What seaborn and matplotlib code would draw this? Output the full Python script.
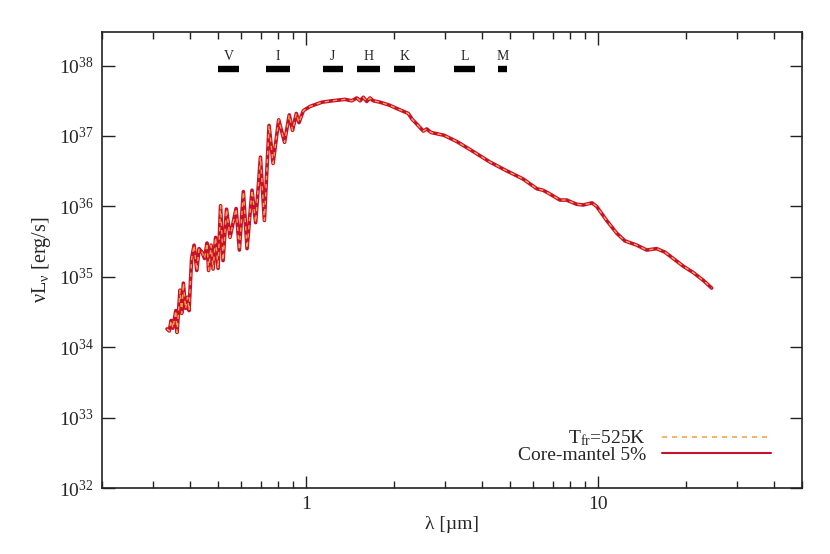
"""
Spectral energy distribution: T_fr=525K vs Core-mantel 5% model,
with photometric band markers along the top.
"""

import numpy as np
import pandas as pd
import matplotlib
matplotlib.use("Agg")
import matplotlib.pyplot as plt
from matplotlib.lines import Line2D
import seaborn as sns

# -------------------------------------------------------- data
# wavelength [um] and log10(nu L_nu [erg/s])
wavelength = [
    0.334, 0.340, 0.345, 0.350, 0.358, 0.3615, 0.370, 0.375, 0.380, 0.3867,
    0.3927, 0.3974, 0.4055, 0.4135, 0.4224, 0.430, 0.440, 0.449, 0.458, 0.4636,
    0.4729, 0.4804, 0.4899, 0.4996, 0.5096, 0.5197, 0.534, 0.549, 0.576, 0.591,
    0.610, 0.628, 0.653, 0.672, 0.698, 0.720, 0.747, 0.771, 0.806, 0.844,
    0.876, 0.899, 0.926, 0.946, 0.979, 1.032, 1.134, 1.227, 1.360, 1.434,
    1.492, 1.531, 1.571, 1.614, 1.656, 1.700, 1.792, 1.924, 2.074, 2.240,
    2.307, 2.394, 2.522, 2.591, 2.680, 2.969, 3.289, 3.703, 4.267, 4.841,
    5.537, 6.181, 6.480, 6.757, 7.412, 7.813, 8.455, 8.906, 9.539, 9.897,
    10.71, 11.59, 12.37, 13.57, 14.69, 15.89, 16.96, 18.11, 19.60, 21.21,
    22.94, 24.52,
]
log_nuLnu = [
    34.26, 34.23, 34.38, 34.27, 34.52, 34.21, 34.81, 34.48, 34.91, 34.55,
    34.71, 34.52, 35.26, 35.45, 35.09, 35.40, 35.35, 35.26, 35.48, 35.09,
    35.45, 35.11, 35.56, 35.12, 36.01, 35.23, 35.96, 35.56, 35.97, 35.38,
    36.21, 35.40, 36.23, 35.77, 36.70, 35.80, 37.15, 36.61, 37.23, 36.91,
    37.30, 37.08, 37.32, 37.19, 37.36, 37.42, 37.48, 37.50, 37.52, 37.50,
    37.54, 37.50, 37.55, 37.49, 37.54, 37.50, 37.48, 37.44, 37.38, 37.32,
    37.24, 37.17, 37.07, 37.10, 37.05, 37.01, 36.92, 36.79, 36.63, 36.51,
    36.39, 36.25, 36.23, 36.19, 36.09, 36.09, 36.03, 36.02, 36.05, 36.00,
    35.80, 35.62, 35.51, 35.45, 35.38, 35.40, 35.35, 35.26, 35.15, 35.06,
    34.95, 34.84,
]

# photometric bands: name, lower / upper edge [um]
band_names = ["V", "I", "J", "H", "K", "L", "M"]
band_lo    = [0.50, 0.73, 1.14, 1.49, 2.00, 3.22, 4.56]
band_hi    = [0.59, 0.88, 1.34, 1.79, 2.36, 3.80, 4.87]
BAND_LEVEL = 8.8e37
LABEL_LEVEL = 1.35e38

y_ticks = [1e32, 1e33, 1e34, 1e35, 1e36, 1e37, 1e38]
x_ticks = [1, 10]

RED    = "#c8102e"
ORANGE = "#f6a545"


def main():
    sns.set_style("ticks")
    plt.rcParams["font.family"] = ["Liberation Serif", "DejaVu Serif"]
    plt.rcParams["mathtext.fontset"] = "custom"
    plt.rcParams["mathtext.rm"] = "Liberation Serif"
    plt.rcParams["mathtext.it"] = "Liberation Serif:italic"

    df = pd.DataFrame({"wavelength": wavelength,
                       "nuLnu": 10.0 ** np.array(log_nuLnu)})

    fig = plt.figure(figsize=(8.3, 5.54), dpi=100)
    ax = fig.add_axes([102 / 830, 1 - 488 / 554, 700 / 830, 456 / 554])

    # both models overlap almost perfectly
    sns.lineplot(data=df, x="wavelength", y="nuLnu", ax=ax, sort=False,
                 estimator=None, color=RED, lw=2.6)
    sns.lineplot(data=df, x="wavelength", y="nuLnu", ax=ax, sort=False,
                 estimator=None, color=ORANGE, lw=1.0,
                 linestyle=(0, (3, 3)))

    ax.set_xscale("log"); ax.set_yscale("log")
    ax.set_xlim(0.2, 50)
    ax.set_ylim(1e32, 3e38)
    ax.set_yticks(y_ticks)
    ax.set_xticks(x_ticks)

    # band markers
    for name, lo, hi in zip(band_names, band_lo, band_hi):
        ax.hlines(BAND_LEVEL, lo, hi, color="black", lw=4.6)
        ax.text(np.sqrt(lo * hi), LABEL_LEVEL, name, ha="center",
                va="center", fontsize=10)

    ax.set_xlabel("λ [µm]", fontsize=14, labelpad=2)
    ax.set_ylabel(r"νL$_\mathregular{ν}$ [erg/s]", fontsize=14.5, labelpad=4)

    ax.tick_params(which="both", direction="in", top=True, right=True,
                   labelsize=14, width=1.0, color="#222222")
    ax.tick_params(which="major", length=9, pad=6)
    ax.tick_params(which="minor", length=5)
    ax.yaxis.set_minor_locator(matplotlib.ticker.NullLocator())
    ax.xaxis.set_major_formatter(matplotlib.ticker.FormatStrFormatter("%g"))
    ax.xaxis.set_minor_formatter(matplotlib.ticker.NullFormatter())
    for sp in ax.spines.values():
        sp.set_linewidth(1.2)
        sp.set_color("#222222")

    handles = [Line2D([], [], color=ORANGE, lw=1.2, linestyle=(0, (3, 3))),
               Line2D([], [], color=RED, lw=1.5)]
    labels = [r"T$_\mathregular{fr}$=525K", "Core-mantel 5%"]
    ax.legend(handles, labels, loc="lower right", bbox_to_anchor=(0.955, 0.053),
              frameon=False, markerfirst=False, fontsize=14,
              handlelength=5.6, handletextpad=0.8, labelspacing=-0.1,
              borderpad=0, borderaxespad=0)

    fig.savefig("out.png", dpi=100)
    plt.close(fig)


if __name__ == "__main__":
    main()
